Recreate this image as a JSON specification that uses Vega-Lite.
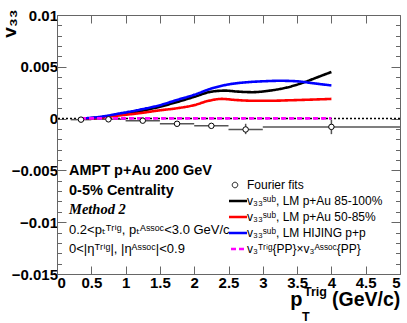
{
  "$schema": "https://vega.github.io/schema/vega-lite/v6.json",
  "width": 343,
  "height": 259,
  "autosize": {"type": "none"},
  "padding": {"left": 57, "top": 15, "right": 7, "bottom": 49},
  "background": "white",
  "config": {
    "view": {"stroke": null},
    "axis": {"grid": false, "domainColor": "#666", "tickColor": "#666", "tickWidth": 1, "labelFont": "Liberation Sans", "labelFontWeight": "bold", "labelFontSize": 15, "labelColor": "black"},
    "text": {"color": "black"}
  },
  "datasets": {
    "curves": [
      {"pt": 0.35, "v": 0.0, "s": "v₃₃ˢᵘᵇ, LM p+Au 85-100%"},
      {"pt": 0.6, "v": 0.0001, "s": "v₃₃ˢᵘᵇ, LM p+Au 85-100%"},
      {"pt": 0.9, "v": 0.00038, "s": "v₃₃ˢᵘᵇ, LM p+Au 85-100%"},
      {"pt": 1.2, "v": 0.0007, "s": "v₃₃ˢᵘᵇ, LM p+Au 85-100%"},
      {"pt": 1.5, "v": 0.00115, "s": "v₃₃ˢᵘᵇ, LM p+Au 85-100%"},
      {"pt": 1.75, "v": 0.0016, "s": "v₃₃ˢᵘᵇ, LM p+Au 85-100%"},
      {"pt": 2.0, "v": 0.0021, "s": "v₃₃ˢᵘᵇ, LM p+Au 85-100%"},
      {"pt": 2.25, "v": 0.0026, "s": "v₃₃ˢᵘᵇ, LM p+Au 85-100%"},
      {"pt": 2.45, "v": 0.0027, "s": "v₃₃ˢᵘᵇ, LM p+Au 85-100%"},
      {"pt": 2.65, "v": 0.0026, "s": "v₃₃ˢᵘᵇ, LM p+Au 85-100%"},
      {"pt": 2.85, "v": 0.00255, "s": "v₃₃ˢᵘᵇ, LM p+Au 85-100%"},
      {"pt": 3.1, "v": 0.0027, "s": "v₃₃ˢᵘᵇ, LM p+Au 85-100%"},
      {"pt": 3.35, "v": 0.003, "s": "v₃₃ˢᵘᵇ, LM p+Au 85-100%"},
      {"pt": 3.6, "v": 0.0035, "s": "v₃₃ˢᵘᵇ, LM p+Au 85-100%"},
      {"pt": 3.8, "v": 0.004, "s": "v₃₃ˢᵘᵇ, LM p+Au 85-100%"},
      {"pt": 4.0, "v": 0.0045, "s": "v₃₃ˢᵘᵇ, LM p+Au 85-100%"},
      {"pt": 0.35, "v": 0.0, "s": "v₃₃ˢᵘᵇ, LM p+Au 50-85%"},
      {"pt": 0.6, "v": 0.00008, "s": "v₃₃ˢᵘᵇ, LM p+Au 50-85%"},
      {"pt": 0.9, "v": 0.0003, "s": "v₃₃ˢᵘᵇ, LM p+Au 50-85%"},
      {"pt": 1.2, "v": 0.00052, "s": "v₃₃ˢᵘᵇ, LM p+Au 50-85%"},
      {"pt": 1.5, "v": 0.0008, "s": "v₃₃ˢᵘᵇ, LM p+Au 50-85%"},
      {"pt": 1.75, "v": 0.001, "s": "v₃₃ˢᵘᵇ, LM p+Au 50-85%"},
      {"pt": 2.0, "v": 0.0013, "s": "v₃₃ˢᵘᵇ, LM p+Au 50-85%"},
      {"pt": 2.2, "v": 0.0017, "s": "v₃₃ˢᵘᵇ, LM p+Au 50-85%"},
      {"pt": 2.4, "v": 0.0019, "s": "v₃₃ˢᵘᵇ, LM p+Au 50-85%"},
      {"pt": 2.6, "v": 0.0018, "s": "v₃₃ˢᵘᵇ, LM p+Au 50-85%"},
      {"pt": 2.8, "v": 0.00173, "s": "v₃₃ˢᵘᵇ, LM p+Au 50-85%"},
      {"pt": 3.1, "v": 0.00172, "s": "v₃₃ˢᵘᵇ, LM p+Au 50-85%"},
      {"pt": 3.4, "v": 0.00177, "s": "v₃₃ˢᵘᵇ, LM p+Au 50-85%"},
      {"pt": 3.7, "v": 0.00183, "s": "v₃₃ˢᵘᵇ, LM p+Au 50-85%"},
      {"pt": 4.0, "v": 0.0019, "s": "v₃₃ˢᵘᵇ, LM p+Au 50-85%"},
      {"pt": 0.35, "v": 0.0, "s": "v₃₃ˢᵘᵇ, LM HIJING p+p"},
      {"pt": 0.6, "v": 0.00015, "s": "v₃₃ˢᵘᵇ, LM HIJING p+p"},
      {"pt": 0.9, "v": 0.00048, "s": "v₃₃ˢᵘᵇ, LM HIJING p+p"},
      {"pt": 1.2, "v": 0.00085, "s": "v₃₃ˢᵘᵇ, LM HIJING p+p"},
      {"pt": 1.5, "v": 0.0013, "s": "v₃₃ˢᵘᵇ, LM HIJING p+p"},
      {"pt": 1.75, "v": 0.0018, "s": "v₃₃ˢᵘᵇ, LM HIJING p+p"},
      {"pt": 2.0, "v": 0.0023, "s": "v₃₃ˢᵘᵇ, LM HIJING p+p"},
      {"pt": 2.25, "v": 0.0029, "s": "v₃₃ˢᵘᵇ, LM HIJING p+p"},
      {"pt": 2.5, "v": 0.0033, "s": "v₃₃ˢᵘᵇ, LM HIJING p+p"},
      {"pt": 2.75, "v": 0.0035, "s": "v₃₃ˢᵘᵇ, LM HIJING p+p"},
      {"pt": 3.0, "v": 0.0036, "s": "v₃₃ˢᵘᵇ, LM HIJING p+p"},
      {"pt": 3.25, "v": 0.00365, "s": "v₃₃ˢᵘᵇ, LM HIJING p+p"},
      {"pt": 3.5, "v": 0.0036, "s": "v₃₃ˢᵘᵇ, LM HIJING p+p"},
      {"pt": 3.75, "v": 0.0034, "s": "v₃₃ˢᵘᵇ, LM HIJING p+p"},
      {"pt": 4.0, "v": 0.0032, "s": "v₃₃ˢᵘᵇ, LM HIJING p+p"},
      {"pt": 0.35, "v": 0.00002, "s": "v₃ᵀʳⁱᵍ{PP}×v₃ᴬˢˢᵒᶜ{PP}"},
      {"pt": 2.0, "v": 0.00002, "s": "v₃ᵀʳⁱᵍ{PP}×v₃ᴬˢˢᵒᶜ{PP}"},
      {"pt": 4.0, "v": 0.00002, "s": "v₃ᵀʳⁱᵍ{PP}×v₃ᴬˢˢᵒᶜ{PP}"}
    ],
    "fourier": [
      {"pt": 0.35, "v": -0.0001, "xlo": 0.2, "xhi": 0.5, "vlo": -0.0001, "vhi": -0.0001, "s": "Fourier fits"},
      {"pt": 0.75, "v": -0.00007, "xlo": 0.5, "xhi": 1.0, "vlo": -0.00007, "vhi": -0.00007, "s": "Fourier fits"},
      {"pt": 1.25, "v": -0.0002, "xlo": 1.0, "xhi": 1.5, "vlo": -0.0002, "vhi": -0.0002, "s": "Fourier fits"},
      {"pt": 1.75, "v": -0.0005, "xlo": 1.5, "xhi": 2.0, "vlo": -0.0005, "vhi": -0.0005, "s": "Fourier fits"},
      {"pt": 2.25, "v": -0.0007, "xlo": 2.0, "xhi": 2.5, "vlo": -0.0007, "vhi": -0.0007, "s": "Fourier fits"},
      {"pt": 2.75, "v": -0.00105, "xlo": 2.5, "xhi": 3.0, "vlo": -0.0015, "vhi": -0.0005, "s": "Fourier fits"},
      {"pt": 4.0, "v": -0.0008, "xlo": 3.0, "xhi": 5.0, "vlo": -0.0015, "vhi": -0.0001, "s": "Fourier fits"}
    ]
  },
  "layer": [
    {
      "data": {"values": [{"z": 0}]},
      "mark": {"type": "rule", "color": "black", "strokeDash": [2, 2], "strokeWidth": 1.5},
      "encoding": {"y": {"field": "z", "type": "quantitative", "axis": null}}
    },
    {
      "data": {"name": "fourier"},
      "mark": {"type": "rule", "color": "#555", "strokeWidth": 1.5},
      "encoding": {
        "x": {"field": "xlo", "type": "quantitative", "axis": null},
        "x2": {"field": "xhi"},
        "y": {"field": "v", "type": "quantitative", "axis": null}
      }
    },
    {
      "data": {"name": "fourier"},
      "mark": {"type": "rule", "color": "#555", "strokeWidth": 1.5},
      "encoding": {
        "x": {"field": "pt", "type": "quantitative", "axis": null},
        "y": {"field": "vlo", "type": "quantitative", "axis": null},
        "y2": {"field": "vhi"}
      }
    },
    {
      "data": {"name": "curves"},
      "mark": {"type": "line", "interpolate": "monotone", "strokeWidth": 2.6},
      "encoding": {
        "x": {"field": "pt", "type": "quantitative",
          "scale": {"domain": [0, 5], "nice": false, "zero": false},
          "axis": {"orient": "bottom", "values": [0, 0.5, 1, 1.5, 2, 2.5, 3, 3.5, 4, 4.5, 5], "format": ".1~f", "tickSize": -8, "labelPadding": 9, "title": null}},
        "y": {"field": "v", "type": "quantitative",
          "scale": {"domain": [-0.015, 0.01], "nice": false, "zero": false},
          "axis": {"orient": "left",
            "values": [-0.015, -0.014, -0.013, -0.012, -0.011, -0.01, -0.009, -0.008, -0.007, -0.006, -0.005, -0.004, -0.003, -0.002, -0.001, 0, 0.001, 0.002, 0.003, 0.004, 0.005, 0.006, 0.007, 0.008, 0.009, 0.01],
            "tickSize": {"condition": {"test": "abs(round(datum.value*1000)) % 5 == 0", "value": -9}, "value": -4.5},
            "labelPadding": 8.5,
            "labelExpr": "abs(round(datum.value*1000)) % 5 == 0 ? (abs(datum.value) < 1e-9 ? '0' : format(datum.value, '.3~f')) : ''",
            "title": "v₃₃", "titleFont": "Liberation Sans", "titleFontSize": 19, "titleFontWeight": "bold", "titleColor": "black",
            "titleAngle": 270, "titleAlign": "right", "titleBaseline": "alphabetic", "titleX": -42, "titleY": -6}},
        "color": {"field": "s", "type": "nominal",
          "scale": {"domain": ["Fourier fits", "v₃₃ˢᵘᵇ, LM p+Au 85-100%", "v₃₃ˢᵘᵇ, LM p+Au 50-85%", "v₃₃ˢᵘᵇ, LM HIJING p+p", "v₃ᵀʳⁱᵍ{PP}×v₃ᴬˢˢᵒᶜ{PP}"],
                    "range": ["black", "black", "#ff0000", "#0000ff", "#ff00ff"]},
          "legend": {"orient": "none", "legendX": 172, "legendY": 162, "title": null, "padding": 0,
            "symbolType": "stroke", "symbolSize": 576, "symbolStrokeWidth": 2.5,
            "labelFont": "Liberation Sans", "labelFontSize": 12, "labelColor": "black", "labelOffset": 6, "labelLimit": 300,
            "clipHeight": 16, "rowPadding": 0,
            "encode": {"symbols": {"update": {
              "shape": {"signal": "datum.value === 'Fourier fits' ? 'circle' : 'stroke'"},
              "size": {"signal": "datum.value === 'Fourier fits' ? 30 : 576"},
              "strokeWidth": {"signal": "datum.value === 'Fourier fits' ? 1 : 2.5"},
              "strokeDash": {"signal": "indexof(datum.value, 'PP') >= 0 ? [5, 3] : [1, 0]"},
              "fill": {"signal": "datum.value === 'Fourier fits' ? 'white' : 'transparent'"}
            }}}}},
        "strokeDash": {"field": "s", "type": "nominal",
          "scale": {"domain": ["v₃₃ˢᵘᵇ, LM p+Au 85-100%", "v₃₃ˢᵘᵇ, LM p+Au 50-85%", "v₃₃ˢᵘᵇ, LM HIJING p+p", "v₃ᵀʳⁱᵍ{PP}×v₃ᴬˢˢᵒᶜ{PP}"],
                    "range": [[1, 0], [1, 0], [1, 0], [5, 3]]},
          "legend": null}
      }
    },
    {
      "data": {"name": "fourier"},
      "mark": {"type": "point", "shape": "circle", "filled": false, "fill": "white", "size": 30, "strokeWidth": 1, "opacity": 1},
      "encoding": {
        "x": {"field": "pt", "type": "quantitative",
          "axis": {"orient": "top", "values": [0, 0.5, 1, 1.5, 2, 2.5, 3, 3.5, 4, 4.5, 5], "labels": false, "tickSize": -8, "title": null}},
        "y": {"field": "v", "type": "quantitative",
          "axis": {"orient": "right",
            "values": [-0.015, -0.014, -0.013, -0.012, -0.011, -0.01, -0.009, -0.008, -0.007, -0.006, -0.005, -0.004, -0.003, -0.002, -0.001, 0, 0.001, 0.002, 0.003, 0.004, 0.005, 0.006, 0.007, 0.008, 0.009, 0.01],
            "tickSize": {"condition": {"test": "abs(round(datum.value*1000)) % 5 == 0", "value": -9}, "value": -4.5},
            "labels": false, "title": null}},
        "color": {"field": "s", "type": "nominal"}
      }
    },
    {
      "data": {"values": [{"t": "AMPT p+Au 200 GeV"}]},
      "mark": {"type": "text", "align": "left", "baseline": "alphabetic", "font": "Liberation Sans", "fontWeight": "bold", "fontSize": 14.5},
      "encoding": {"x": {"datum": 0.175, "type": "quantitative", "axis": null}, "y": {"datum": -0.00549, "type": "quantitative", "axis": null}, "text": {"field": "t"}}
    },
    {
      "data": {"values": [{"t": "0-5% Centrality"}]},
      "mark": {"type": "text", "align": "left", "baseline": "alphabetic", "font": "Liberation Sans", "fontWeight": "bold", "fontSize": 14.5},
      "encoding": {"x": {"datum": 0.175, "type": "quantitative", "axis": null}, "y": {"datum": -0.00733, "type": "quantitative", "axis": null}, "text": {"field": "t"}}
    },
    {
      "data": {"values": [{"t": "Method 2"}]},
      "mark": {"type": "text", "align": "left", "baseline": "alphabetic", "font": "Liberation Serif", "fontWeight": "bold", "fontStyle": "italic", "fontSize": 14.5},
      "encoding": {"x": {"datum": 0.175, "type": "quantitative", "axis": null}, "y": {"datum": -0.00921, "type": "quantitative", "axis": null}, "text": {"field": "t"}}
    },
    {
      "data": {"values": [{"t": "0.2<pₜᵀʳⁱᵍ, pₜᴬˢˢᵒᶜ<3.0 GeV/c"}]},
      "mark": {"type": "text", "align": "left", "baseline": "alphabetic", "font": "Liberation Sans, DejaVu Sans", "fontSize": 13},
      "encoding": {"x": {"datum": 0.175, "type": "quantitative", "axis": null}, "y": {"datum": -0.01114, "type": "quantitative", "axis": null}, "text": {"field": "t"}}
    },
    {
      "data": {"values": [{"t": "0<|ηᵀʳⁱᵍ|, |ηᴬˢˢᵒᶜ|<0.9"}]},
      "mark": {"type": "text", "align": "left", "baseline": "alphabetic", "font": "Liberation Sans, DejaVu Sans", "fontSize": 13},
      "encoding": {"x": {"datum": 0.175, "type": "quantitative", "axis": null}, "y": {"datum": -0.01302, "type": "quantitative", "axis": null}, "text": {"field": "t"}}
    },
    {
      "data": {"values": [{"t": "p"}]},
      "mark": {"type": "text", "align": "left", "baseline": "alphabetic", "font": "Liberation Sans", "fontWeight": "bold", "fontSize": 20},
      "encoding": {"x": {"datum": 3.4, "type": "quantitative", "axis": null}, "y": {"datum": -0.01809, "type": "quantitative", "axis": null}, "text": {"field": "t"}}
    },
    {
      "data": {"values": [{"t": "Trig"}]},
      "mark": {"type": "text", "align": "left", "baseline": "alphabetic", "font": "Liberation Sans", "fontWeight": "bold", "fontSize": 12.5},
      "encoding": {"x": {"datum": 3.6, "type": "quantitative", "axis": null}, "y": {"datum": -0.01712, "type": "quantitative", "axis": null}, "text": {"field": "t"}}
    },
    {
      "data": {"values": [{"t": "T"}]},
      "mark": {"type": "text", "align": "left", "baseline": "alphabetic", "font": "Liberation Sans", "fontWeight": "bold", "fontSize": 12.5},
      "encoding": {"x": {"datum": 3.57, "type": "quantitative", "axis": null}, "y": {"datum": -0.01954, "type": "quantitative", "axis": null}, "text": {"field": "t"}}
    },
    {
      "data": {"values": [{"t": "(GeV/c)"}]},
      "mark": {"type": "text", "align": "left", "baseline": "alphabetic", "font": "Liberation Sans", "fontWeight": "bold", "fontSize": 19.5},
      "encoding": {"x": {"datum": 4.01, "type": "quantitative", "axis": null}, "y": {"datum": -0.01809, "type": "quantitative", "axis": null}, "text": {"field": "t"}}
    }
  ],
  "resolve": {"axis": {"x": "independent", "y": "independent"}}
}
